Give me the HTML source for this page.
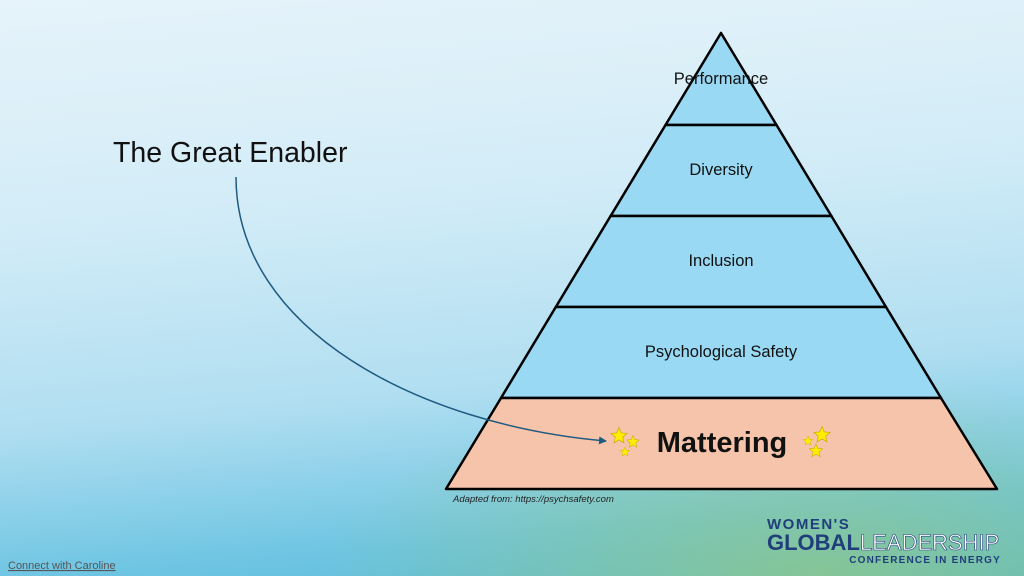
<!DOCTYPE html>
<html><head><style>
body{margin:0;width:1024px;height:576px;overflow:hidden;font-family:"Liberation Sans",sans-serif}
#bg{position:absolute;inset:0;background:
radial-gradient(ellipse 500px 200px at 80% 100%,rgba(150,200,120,.7),transparent),
linear-gradient(175deg,#e6f3fa 0%,#d2ecf7 35%,#b0def1 65%,#6cc4e2 88%,#5abbd8 100%);}
</style></head><body>
<div id="bg"></div>
<svg width="1024" height="576" style="position:absolute;left:0;top:0">
<defs><marker id="a" markerWidth="8" markerHeight="8" refX="7" refY="4" orient="auto" markerUnits="userSpaceOnUse"><path d="M0,0L8,4L0,8z" fill="#1f5a80"/></marker>
<polygon id="s" points="0,-1 .265,-.364 .951,-.309 .428,.139 .588,.809 0,.45 -.588,.809 -.428,.139 -.951,-.309 -.265,-.364" fill="#ffee00" stroke="#c8a800" stroke-width=".08"/></defs>
<g stroke="#000" stroke-width="2.5" stroke-linejoin="round">
<polygon points="721,33 776.5,125 665.5,125" fill="#99d9f4"/>
<polygon points="665.5,125 776.5,125 831.4,216 610.6,216" fill="#99d9f4"/>
<polygon points="610.6,216 831.4,216 886,307 555.8,307" fill="#99d9f4"/>
<polygon points="555.8,307 886,307 941,398 501,398" fill="#99d9f4"/>
<polygon points="501,398 941,398 997,489 446,489" fill="#f5c4aa"/>
</g>
<path d="M236,177 C236,330 420,425 606,441" fill="none" stroke="#1f5a80" stroke-width="1.5" marker-end="url(#a)"/>
<use href="#s" transform="translate(619,436) scale(8.5)"/>
<use href="#s" transform="translate(633,442) scale(6.5)"/>
<use href="#s" transform="translate(625,452) scale(5)"/>
<use href="#s" transform="translate(822,435) scale(8.5)"/>
<use href="#s" transform="translate(808,441) scale(5)"/>
<use href="#s" transform="translate(816,451) scale(7)"/>
<g font-size="16.5" text-anchor="middle" fill="#111">
<text x="721" y="84">Performance</text>
<text x="721" y="175">Diversity</text>
<text x="721" y="266">Inclusion</text>
<text x="721" y="357">Psychological Safety</text>
<text x="722" y="452" font-size="29" font-weight="bold">Mattering</text>
</g>
<text x="113" y="162" font-size="28.5" fill="#111">The Great Enabler</text>
<text x="453" y="502" font-size="9.5" font-style="italic" fill="#222">Adapted from: https://psychsafety.com</text>
<text x="8" y="569" font-size="11" fill="#555" text-decoration="underline">Connect with Caroline</text>
<text x="767" y="529" font-size="15" font-weight="bold" fill="#1f3e7a" letter-spacing="1.5">WOMEN'S</text>
<text x="767" y="550" font-size="22" font-weight="bold" fill="#1f3e7a">GLOBAL<tspan font-weight="normal" fill="#fff" stroke="#1f3e7a" stroke-width="0.6">LEADERSHIP</tspan></text>
<text x="1001" y="563" font-size="10" font-weight="bold" fill="#1f3e7a" text-anchor="end" letter-spacing="1.2">CONFERENCE IN ENERGY</text>
</svg>
</body></html>
